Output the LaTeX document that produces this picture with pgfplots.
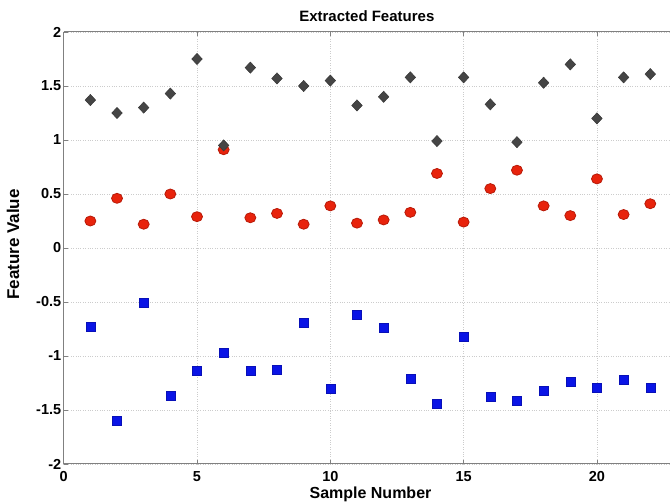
\documentclass[border=0pt]{standalone}
\usepackage{fontspec}
\setmainfont{Liberation Sans}
\usepackage{pgfplots}
\pgfplotsset{compat=1.18}
\definecolor{dgray}{HTML}{454545}
\definecolor{mred}{HTML}{E8230C}
\definecolor{mredd}{HTML}{B81A08}
\definecolor{mblue}{HTML}{0A14E6}
\definecolor{axgray}{HTML}{808080}
\begin{document}
\begin{tikzpicture}
\begin{axis}[
  at={(0,0)}, anchor=south west,
  scale only axis,
  width=606.3pt, height=432pt,
  xmin=0, xmax=22.74, ymin=-2, ymax=2,
  axis x line=box, axis y line=left,
  axis line style={-, axgray, line width=1pt},
  tick align=inside,
  major tick length=4pt,
  tick style={axgray, line width=0.8pt},
  xtick={0,5,10,15,20},
  ytick={-2,-1.5,-1,-0.5,0,0.5,1,1.5,2},
  yticklabels={-2,-1.5,-1,-0.5,0,0.5,1,1.5,2},
  xticklabels={0,5,10,15,20},
  ticklabel style={font=\bfseries\fontsize{14.5}{14.5}\selectfont, text=black},
  xticklabel style={yshift=-3.5pt},
  yticklabel style={xshift=1pt},
  grid=major,
  grid style={dotted, line width=0.8pt, black!20},
  title={\bfseries\fontsize{15}{15}\selectfont Extracted Features},
  title style={at={(axis description cs:0.5,1.023)}, anchor=center},
  xlabel={\bfseries\fontsize{16}{16}\selectfont Sample Number},
  ylabel={\bfseries\fontsize{17}{17}\selectfont Feature Value},
  xlabel style={at={(axis description cs:0.506,0)}, anchor=center, yshift=-30pt},
  ylabel style={at={(axis description cs:-0.0836,0.508)}, anchor=center},
  clip=false,
]
\addplot[only marks, mark=square*, mark size=4.5pt, mark options={fill=mblue, draw=mblue!80!black, line width=0.4pt}] coordinates {
(1,-0.73) (2,-1.60) (3,-0.51) (4,-1.37) (5,-1.14) (6,-0.97) (7,-1.14) (8,-1.13) (9,-0.69) (10,-1.30) (11,-0.62)
(12,-0.74) (13,-1.21) (14,-1.44) (15,-0.82) (16,-1.38) (17,-1.41) (18,-1.32) (19,-1.24) (20,-1.29) (21,-1.22) (22,-1.29)};
\addplot[only marks, mark=*, mark size=5pt, mark options={fill=mred, draw=mredd, line width=0.8pt, xscale=1.1}] coordinates {
(1,0.25) (2,0.46) (3,0.22) (4,0.50) (5,0.29) (6,0.91) (7,0.28) (8,0.32) (9,0.22) (10,0.39) (11,0.23)
(12,0.26) (13,0.33) (14,0.69) (15,0.24) (16,0.55) (17,0.72) (18,0.39) (19,0.30) (20,0.64) (21,0.31) (22,0.41)};
\addplot[only marks, mark=diamond*, mark size=5.6pt, mark options={fill=dgray, draw=dgray!80!black, line width=0.5pt, xscale=1.25}] coordinates {
(1,1.37) (2,1.25) (3,1.30) (4,1.43) (5,1.75) (6,0.95) (7,1.67) (8,1.57) (9,1.50) (10,1.55) (11,1.32)
(12,1.40) (13,1.58) (14,0.99) (15,1.58) (16,1.33) (17,0.98) (18,1.53) (19,1.70) (20,1.20) (21,1.58) (22,1.61)};
\end{axis}
\pgfresetboundingbox
\path[use as bounding box] (-63.7pt,-39pt) rectangle (606.3pt,464pt);
\end{tikzpicture}
\end{document}
